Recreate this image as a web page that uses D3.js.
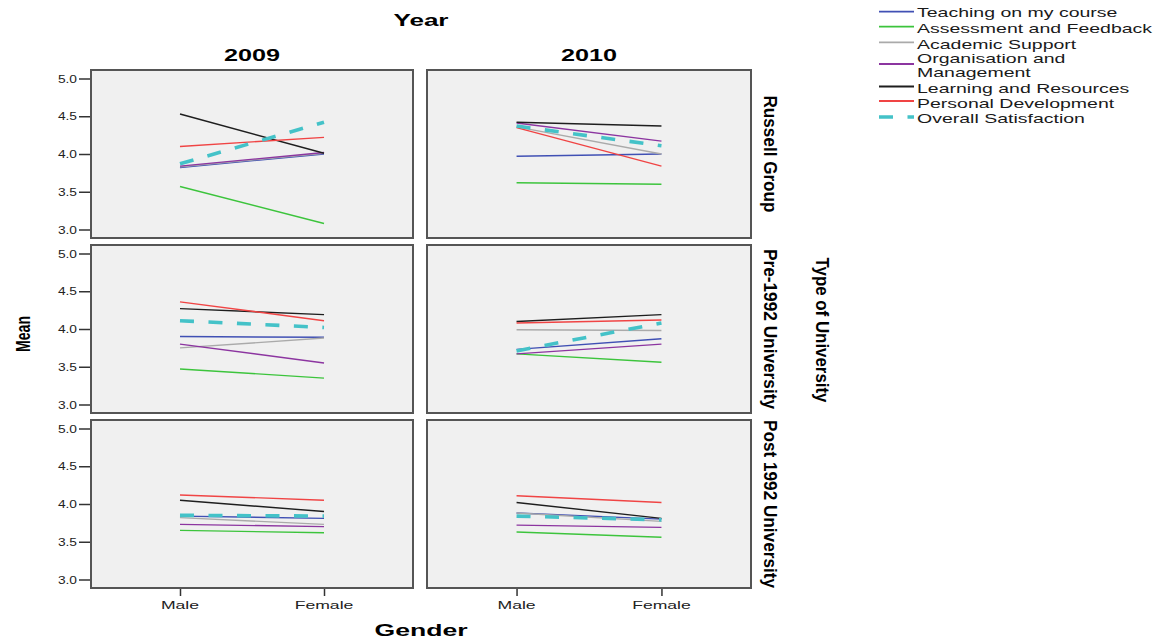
<!DOCTYPE html>
<html>
<head>
<meta charset="utf-8">
<script src="https://cdn.jsdelivr.net/npm/d3@7"></script>
<style>
  body { margin: 0; background: #fff; }
  svg { display: block; font-family: "Liberation Sans", Arial, sans-serif; }
</style>
</head>
<body>
<svg id="chart" width="1161" height="641"></svg>
<script>
// Facet levels
const years = ["2009", "2010"];
const universityTypes = ["Russell Group", "Pre-1992 University", "Post 1992 University"];
const genders = ["Male", "Female"];
const yTicks = [3.0, 3.5, 4.0, 4.5, 5.0];

// Series names and colours (legend order)
const seriesNames = ["Teaching on my course", "Assessment and Feedback", "Academic Support",
  "Organisation and Management", "Learning and Resources", "Personal Development", "Overall Satisfaction"];
const seriesColors = ["#4050b4", "#3cc43c", "#aaaaaa", "#8c35a0", "#1e1e1e", "#f04444", "#44c2c8"];

// Mean scores, one pair (Male, Female) per panel in the order:
// Russell 2009, Russell 2010, Pre-1992 2009, Pre-1992 2010, Post 1992 2009, Post 1992 2010
const teaching     = [3.82, 4.00, 3.97, 4.00, 3.90, 3.89, 3.73, 3.87, 3.84, 3.81, 3.88, 3.80];
const assessment   = [3.57, 3.08, 3.62, 3.60, 3.47, 3.35, 3.67, 3.56, 3.65, 3.62, 3.63, 3.56];
const academic     = [3.83, 4.01, 4.36, 4.00, 3.75, 3.88, 3.99, 3.98, 3.82, 3.73, 3.88, 3.77];
const organisation = [3.84, 4.02, 4.41, 4.17, 3.80, 3.55, 3.67, 3.80, 3.73, 3.70, 3.72, 3.69];
const learning     = [4.53, 4.01, 4.42, 4.37, 4.27, 4.19, 4.10, 4.19, 4.05, 3.90, 4.02, 3.81];
const personal     = [4.10, 4.22, 4.35, 3.84, 4.36, 4.11, 4.08, 4.12, 4.12, 4.05, 4.11, 4.02];
const overall      = [3.87, 4.42, 4.37, 4.11, 4.11, 4.02, 3.71, 4.08, 3.85, 3.84, 3.84, 3.79];

const seriesValues = [teaching, assessment, academic, organisation, learning, personal, overall];

const svg = d3.select("#chart");

// Panel grid
const colX = [[91, 413], [427, 751]];
const rowY = [[70, 238], [245, 413], [420, 588]];
const inset = 8.5;

function stretchedText(parent, str, x, y, size, weight, anchor, sx) {
  return parent.append("text")
    .attr("transform", `translate(${x},${y}) scale(${sx},1)`)
    .attr("text-anchor", anchor)
    .style("font-size", size + "px")
    .style("font-weight", weight)
    .attr("fill", "#111")
    .text(str);
}

function fittedText(parent, str, x, y, size, weight, len, rot) {
  return parent.append("text")
    .attr("transform", `translate(${x},${y}) rotate(${rot || 0})`)
    .attr("text-anchor", "middle")
    .attr("textLength", len)
    .attr("lengthAdjust", "spacingAndGlyphs")
    .style("font-size", size + "px")
    .style("font-weight", weight)
    .attr("fill", "#000")
    .text(str);
}

universityTypes.forEach((type, r) => {
  const [y0, y1] = rowY[r];
  const y = d3.scaleLinear().domain([3, 5]).range([y1 - inset, y0 + inset]);

  years.forEach((year, c) => {
    const [x0, x1] = colX[c];
    const x = d3.scalePoint().domain(genders).range([x0, x1]).padding(0.618);
    const panel = r * 2 + c;

    const g = svg.append("g");
    g.append("rect")
      .attr("x", x0).attr("y", y0)
      .attr("width", x1 - x0).attr("height", y1 - y0)
      .attr("fill", "#f0f0f0");

    const line = d3.line().x(d => x(d.gender)).y(d => y(d.value));

    seriesValues.forEach((vals, s) => {
      const pts = genders.map((gd, i) => ({ gender: gd, value: vals[panel * 2 + i] }));
      const isOverall = s === seriesValues.length - 1;
      g.append("path")
        .datum(pts)
        .attr("d", line)
        .attr("fill", "none")
        .attr("stroke", seriesColors[s])
        .attr("stroke-width", isOverall ? 3.6 : 1.4)
        .attr("stroke-dasharray", isOverall ? "14,14.5" : null);
    });

    g.append("rect")
      .attr("x", x0).attr("y", y0)
      .attr("width", x1 - x0).attr("height", y1 - y0)
      .attr("fill", "none")
      .attr("stroke", "#555")
      .attr("stroke-width", 2);

    // Left axis on the first column
    if (c === 0) {
      const ax = svg.append("g").attr("transform", `translate(${x0 - 1},0)`)
        .call(d3.axisLeft(y).tickValues(yTicks).tickSize(11).tickFormat(d3.format(".1f")));
      ax.select(".domain").remove();
      ax.selectAll(".tick line").attr("stroke", "#333").attr("stroke-width", 1.5);
      ax.selectAll(".tick text").remove();
      yTicks.forEach(t => {
        stretchedText(svg, d3.format(".1f")(t), 77, y(t) + 4, 11, "normal", "end", 1.25).attr("fill", "#222");
      });
    }

    // Bottom axis on the last row
    if (r === universityTypes.length - 1) {
      const ax = svg.append("g").attr("transform", `translate(0,${y1 + 1})`)
        .call(d3.axisBottom(x).tickSize(7));
      ax.select(".domain").remove();
      ax.selectAll(".tick line").attr("stroke", "#333").attr("stroke-width", 1.5);
      ax.selectAll(".tick text").remove();
      genders.forEach(gd => {
        stretchedText(svg, gd, x(gd), 609, 11, "normal", "middle", 1.6).attr("fill", "#222");
      });
    }

    // Column headers
    if (r === 0) {
      fittedText(svg, year, (x0 + x1) / 2, 61, 16, "bold", 56);
    }
  });

  // Row strip label
  fittedText(svg, type, 764, (y0 + y1) / 2, 18, "bold", [117, 160, 168][r], 90);
});

// Outer titles
fittedText(svg, "Year", 421, 26, 16, "bold", 55);
fittedText(svg, "Gender", 421, 636, 16, "bold", 93);
fittedText(svg, "Mean", 30, 334, 21, "bold", 36, -90);
fittedText(svg, "Type of University", 816, 330, 18, "bold", 145, 90);

// Legend
const legendRows = [
  { lineY: 11.7, text: [["Teaching on my course", 17]] },
  { lineY: 26.7, text: [["Assessment and Feedback", 33]] },
  { lineY: 42.3, text: [["Academic Support", 48.5]] },
  { lineY: 64, text: [["Organisation and", 63], ["Management", 76.5]] },
  { lineY: 86.5, text: [["Learning and Resources", 92.5]] },
  { lineY: 101, text: [["Personal Development", 107.5]] },
  { lineY: 117, text: [["Overall Satisfaction", 122.5]] }
];
const legend = svg.append("g");
legendRows.forEach((row, i) => {
  const isOverall = i === legendRows.length - 1;
  legend.append("line")
    .attr("x1", 879).attr("x2", 914)
    .attr("y1", row.lineY).attr("y2", row.lineY)
    .attr("stroke", seriesColors[i])
    .attr("stroke-width", isOverall ? 3.6 : 1.8)
    .attr("stroke-dasharray", isOverall ? "14,14.5" : null);
  row.text.forEach(([t, by]) => {
    stretchedText(legend, t, 917, by, 13, "normal", "start", 1.5).attr("fill", "#1a1a1a");
  });
});
</script>
</body>
</html>
